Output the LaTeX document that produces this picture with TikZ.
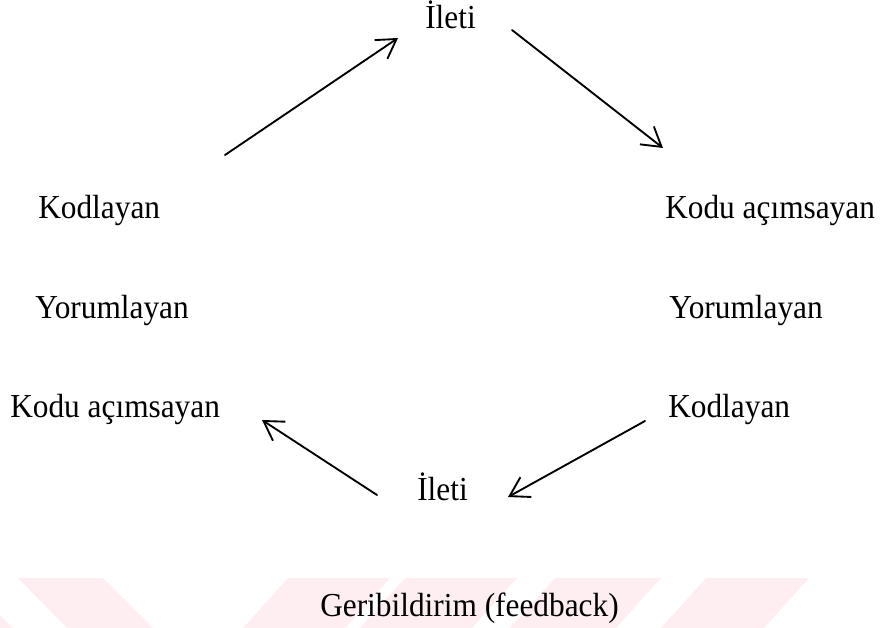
\documentclass[tikz,border=0pt]{standalone}
\usepackage{fontspec}
\setmainfont{Liberation Serif}
\usetikzlibrary{arrows.meta}
\definecolor{wmpink}{RGB}{254,238,241}

\begin{document}
\begin{tikzpicture}[
    x=0.75pt, y=-0.75pt,
    >={Straight Barb[length=14pt, width=17pt, line width=1.4pt]},
    lbl/.style={anchor=base west, inner sep=0pt, yscale=1.07, transform shape,
                font=\fontsize{23.5}{28}\selectfont},
    flow/.style={->, line width=1.4pt, line cap=round},
    wmstripe/.style={fill=wmpink, draw=none}
  ]
  \useasboundingbox (0,0) rectangle (889,628);

  % watermark stripes
  \fill[wmstripe] (0,615) -- (13,628) -- (0,628) -- cycle;
  \fill[wmstripe] (18,578) -- (103,578) -- (153,628) -- (67,628) -- cycle;
  \foreach \a/\b in {288/390, 405/517, 555/661, 706/809}
    \fill[wmstripe] (\a,578) -- (\b,578) -- (\b-45,628) -- (\a-45,628) -- cycle;

  % labels
  \node[lbl] (ileti1) at (425,28) {İleti};
  \node[lbl] (kod1) at (38,218) {Kodlayan};
  \node[lbl] (yor1) at (35,318) {Yorumlayan};
  \node[lbl] (acim1) at (10,417) {Kodu açımsayan};
  \node[lbl] (acim2) at (665,218) {Kodu açımsayan};
  \node[lbl] (yor2) at (669,318) {Yorumlayan};
  \node[lbl] (kod2) at (668,417) {Kodlayan};
  \node[lbl] (ileti2) at (417,500) {İleti};
  \node[lbl] (geri) at (320,616) {Geribildirim (feedback)};

  % arrow ends
  \coordinate (s1) at (225,155);
  \coordinate (t1) at (398,38);
  \coordinate (s2) at (512,30);
  \coordinate (t2) at (663,148);
  \coordinate (s3) at (645,421);
  \coordinate (t3) at (508,497);
  \coordinate (s4) at (377,495);
  \coordinate (t4) at (262,420);

  \draw[flow] (s1) -- (t1);
  \draw[flow] (s2) -- (t2);
  \draw[flow] (s3) -- (t3);
  \draw[flow] (s4) -- (t4);
\end{tikzpicture}
\end{document}
